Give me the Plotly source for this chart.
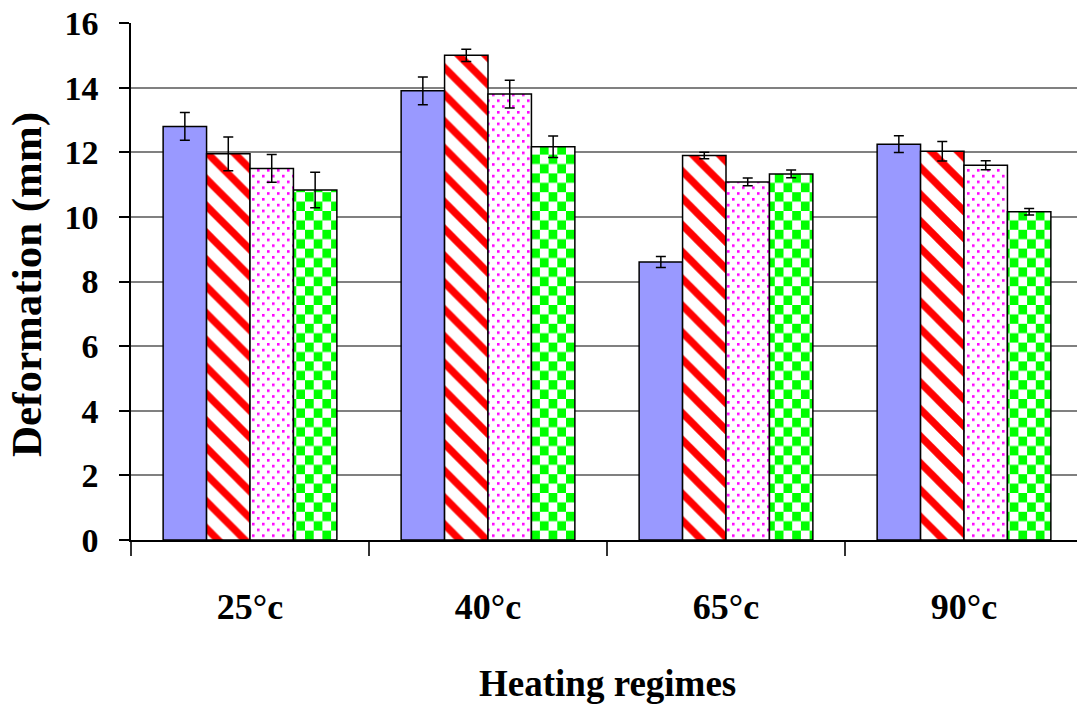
import plotly.graph_objects as go

# Heating regimes on the category axis
regimes = ["25°c", "40°c", "65°c", "90°c"]

# Mean deformation (mm) of the four specimen series, one value per regime
series_a = [12.80, 13.90, 8.60, 12.25]
series_b = [11.95, 15.00, 11.90, 12.03]
series_c = [11.50, 13.80, 11.08, 11.60]
series_d = [10.83, 12.17, 11.33, 10.16]

# Symmetric error (mm)
err_a = [0.43, 0.43, 0.17, 0.26]
err_b = [0.52, 0.19, 0.10, 0.30]
err_c = [0.43, 0.43, 0.12, 0.14]
err_d = [0.55, 0.33, 0.12, 0.10]

y_ticks = [0, 2, 4, 6, 8, 10, 12, 14, 16]

FONT = "Liberation Serif"

W, H = 1077, 707
M_L, M_R, M_T, M_B = 131, 0, 23, 167
plot_w = W - M_L - M_R
cat_px = 238.0  # pixel width of one category slot

outline = dict(color="black", width=1.5)
err_style = dict(type="data", visible=True, color="black", thickness=1.5, width=5)

fig = go.Figure()
fig.add_trace(go.Bar(
    x=regimes, y=series_a, name="A",
    marker=dict(color="#9999FF", line=outline),
    error_y=dict(array=err_a, **err_style),
))
fig.add_trace(go.Bar(
    x=regimes, y=series_b, name="B",
    marker=dict(color="white", line=outline,
                pattern=dict(shape="\\", fgcolor="#FF0000", bgcolor="white",
                             fgopacity=1, size=19, solidity=0.38,
                             fillmode="overlay")),
    error_y=dict(array=err_b, **err_style),
))
fig.add_trace(go.Bar(
    x=regimes, y=series_c, name="C",
    marker=dict(color="white", line=outline,
                pattern=dict(shape=".", fgcolor="#FF00FF", bgcolor="white",
                             fgopacity=1, size=9, solidity=0.1,
                             fillmode="overlay")),
    error_y=dict(array=err_c, **err_style),
))
fig.add_trace(go.Bar(
    x=regimes, y=series_d, name="D",
    marker=dict(color="white", line=outline,
                pattern=dict(shape="+", fgcolor="#00FF00", bgcolor="white",
                             fgopacity=1, size=17, solidity=0.5,
                             fillmode="overlay")),
    error_y=dict(array=err_d, **err_style),
))

fig.update_layout(
    width=W, height=H,
    margin=dict(l=M_L, r=M_R, t=M_T, b=M_B, pad=0),
    paper_bgcolor="white", plot_bgcolor="white",
    barmode="group", bargap=0.27, bargroupgap=0,
    showlegend=False,
    font=dict(family=FONT, color="black"),
    xaxis=dict(
        type="category",
        range=[-0.5, -0.5 + plot_w / cat_px],
        showline=True, linecolor="black", linewidth=1.5,
        ticks="outside", tickson="boundaries", ticklen=14,
        tickcolor="#333333", tickwidth=1.5,
        tickfont=dict(family=FONT, size=36, color="black", weight="bold"),
        ticklabelstandoff=34,
        showgrid=False, zeroline=False,
    ),
    yaxis=dict(
        range=[0, 16],
        tickvals=y_ticks,
        showline=True, linecolor="black", linewidth=1.5,
        ticks="outside", ticklen=10, tickcolor="black", tickwidth=1.5,
        tickfont=dict(family=FONT, size=34, color="black", weight="bold"),
        ticklabelstandoff=14,
        showgrid=True, gridcolor="#808080", gridwidth=1.5,
        zeroline=False,
    ),
    annotations=[
        dict(text="<b>Heating regimes</b>", xref="paper", yref="paper",
             x=(607 - M_L) / plot_w, y=-(683 - (H - M_B)) / (H - M_T - M_B),
             xanchor="center", yanchor="middle", showarrow=False,
             font=dict(family=FONT, size=37, color="black")),
        dict(text="<b>Deformation (mm)</b>", xref="paper", yref="paper",
             x=(27 - M_L) / plot_w, y=((H - M_B) - 285) / (H - M_T - M_B),
             xanchor="center", yanchor="middle", showarrow=False, textangle=-90,
             font=dict(family=FONT, size=43, color="black")),
    ],
)

# Custom fills: staggered dots for series C, checkerboard for series D
fill_js = """
var gd = document.getElementById('{plot_id}');
var ns = 'http://www.w3.org/2000/svg';
var svg = gd.querySelector('svg.main-svg');
var defs = svg.querySelector('defs');
function makePattern(id, w, h, cells) {
  var pat = document.createElementNS(ns, 'pattern');
  pat.setAttribute('id', id);
  pat.setAttribute('patternUnits', 'userSpaceOnUse');
  pat.setAttribute('width', w);
  pat.setAttribute('height', h);
  cells.forEach(function (c) {
    var r = document.createElementNS(ns, 'rect');
    r.setAttribute('x', c[0]); r.setAttribute('y', c[1]);
    r.setAttribute('width', c[2]); r.setAttribute('height', c[3]);
    r.setAttribute('fill', c[4]);
    pat.appendChild(r);
  });
  defs.appendChild(pat);
}
var sw = 8.7, sh = 9.4;
makePattern('checker-green', 2 * sw, 2 * sh, [
  [0, 0, 2 * sw, 2 * sh, '#FFFFFF'],
  [0, 0, sw, sh, '#00FF00'],
  [sw, sh, sw, sh, '#00FF00']
]);
makePattern('dots-magenta', 10, 11.6, [
  [0, 0, 10, 11.6, '#FFFFFF'],
  [1, 1, 2.6, 2.6, '#FF00FF'],
  [6, 6.8, 2.6, 2.6, '#FF00FF']
]);
var traces = gd.querySelectorAll('.barlayer .trace');
function refill(idx, id) {
  if (traces.length > idx) {
    traces[idx].querySelectorAll('.point path').forEach(function (p) {
      p.style.fill = 'url(#' + id + ')';
    });
  }
}
refill(2, 'dots-magenta');
refill(3, 'checker-green');
"""

fig.write_html("out.html", post_script=fill_js)
